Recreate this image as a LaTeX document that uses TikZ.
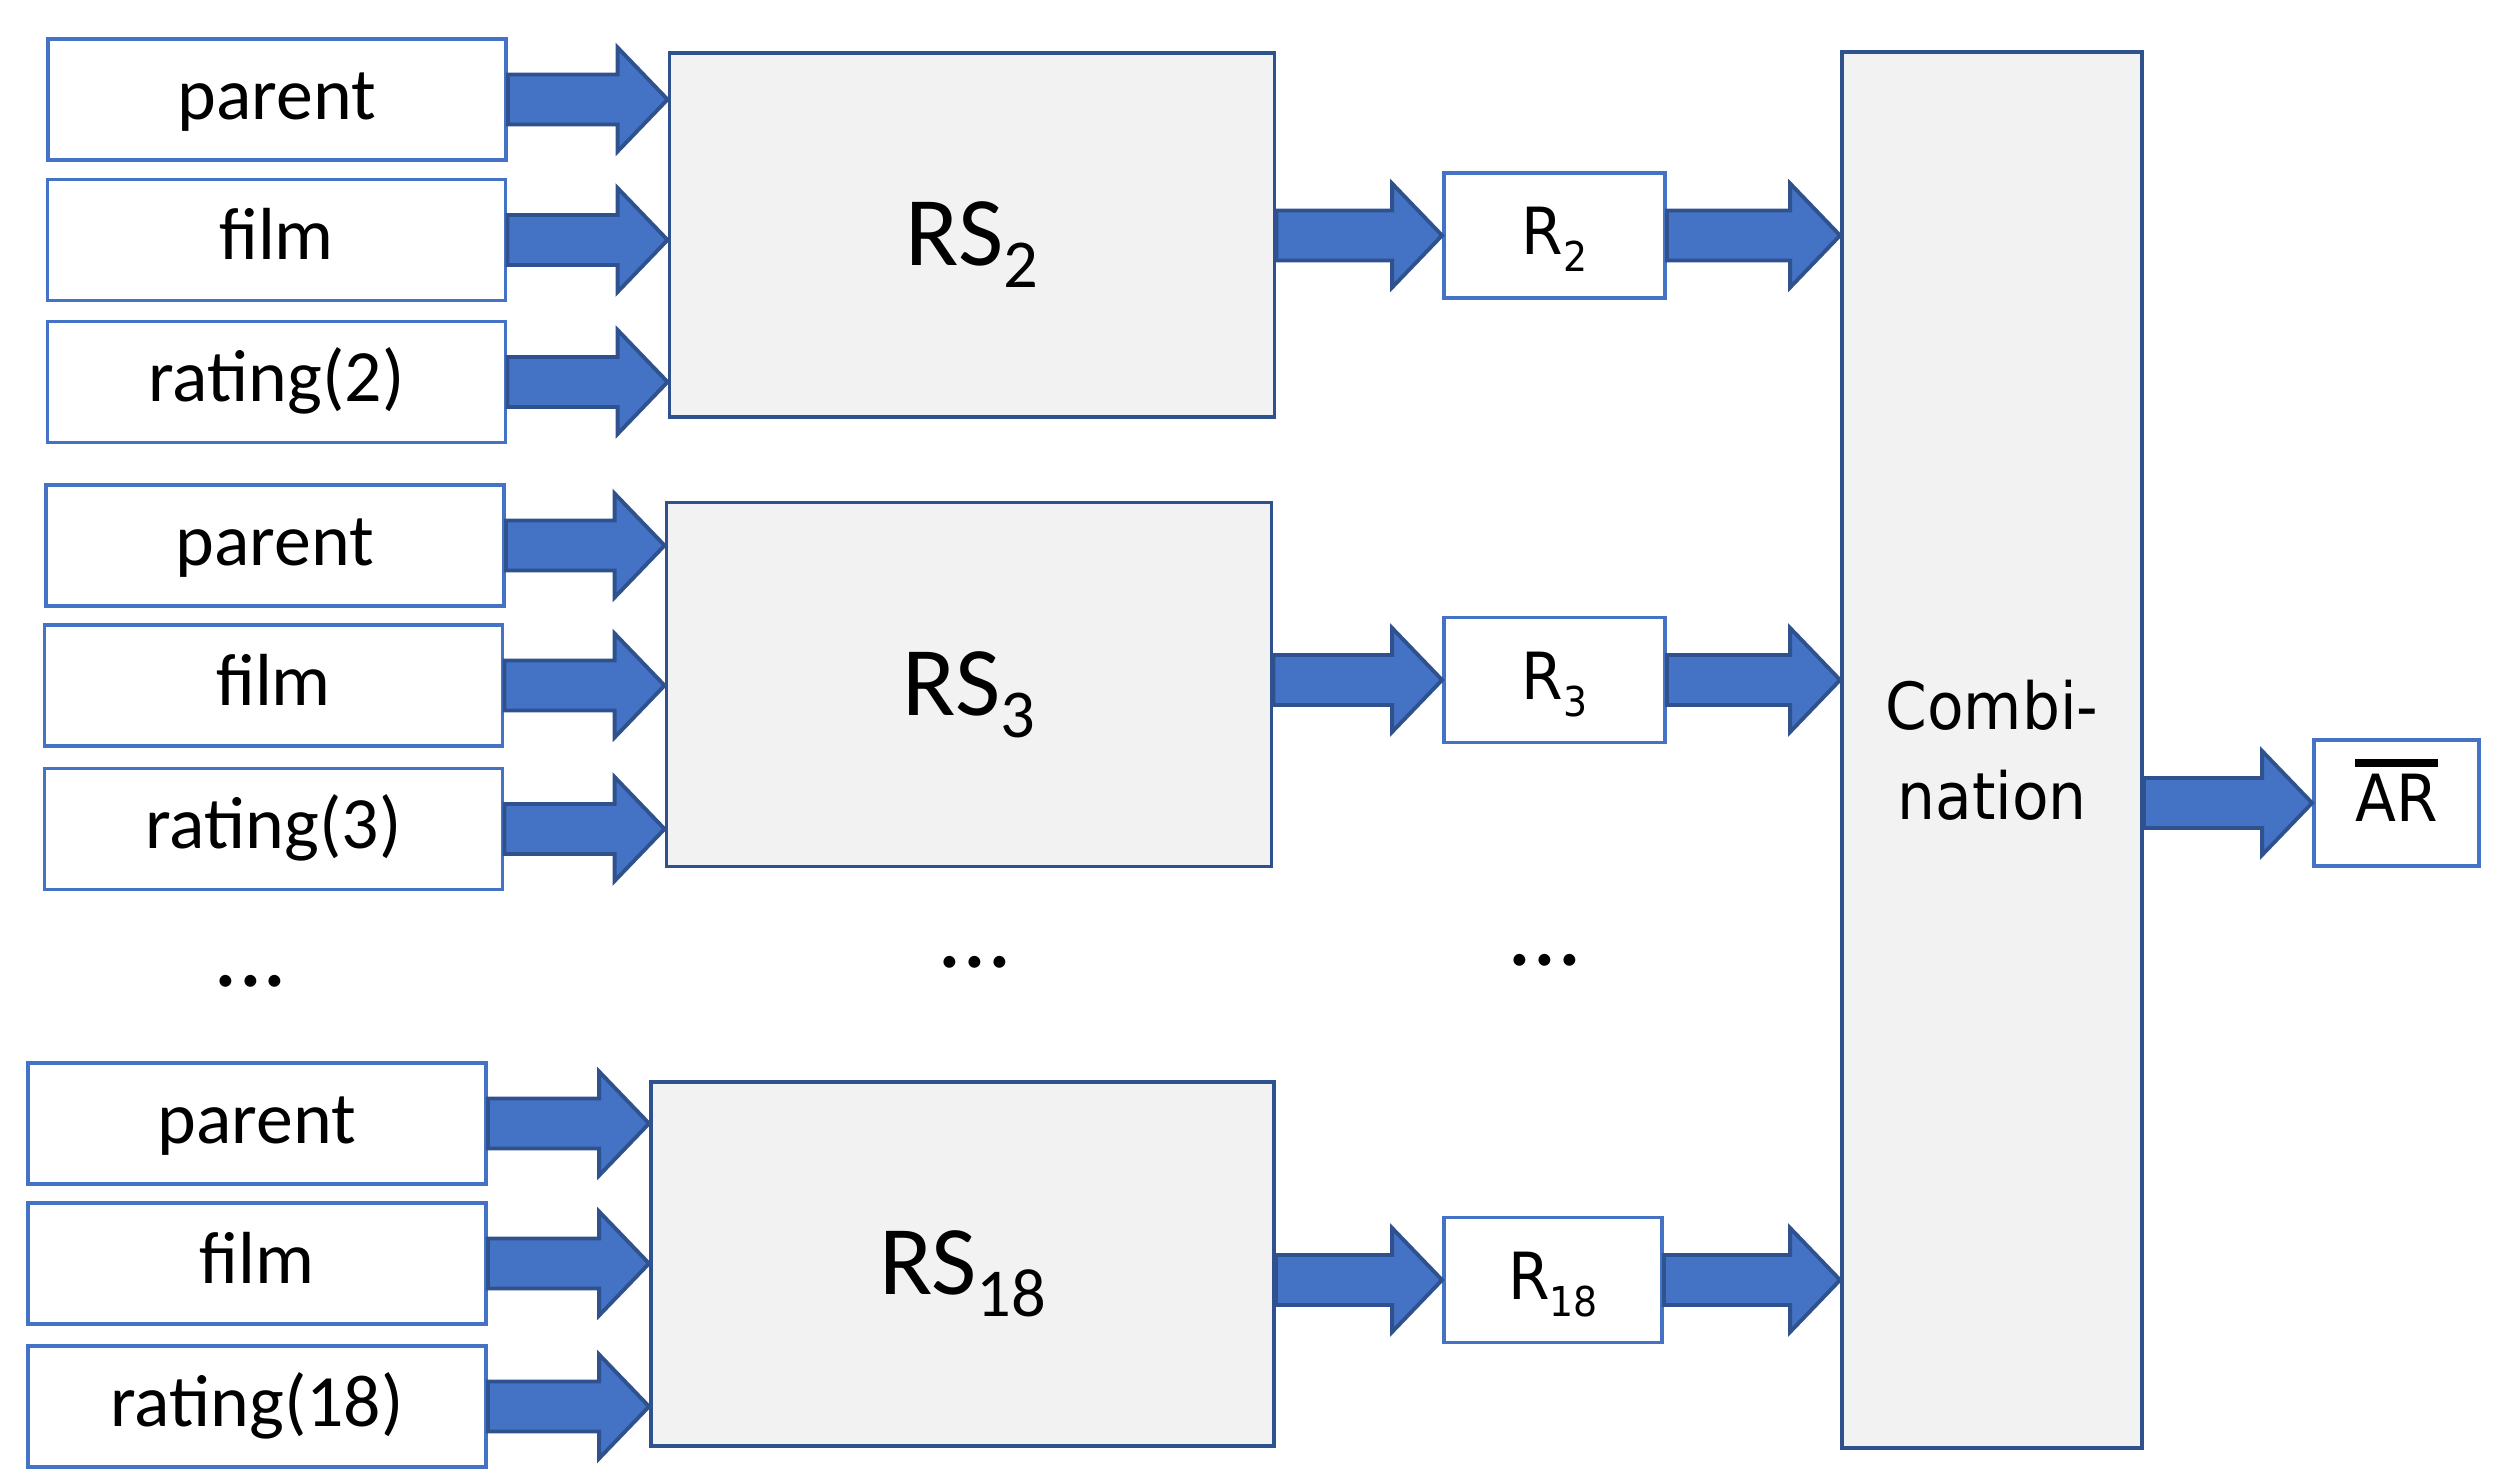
\documentclass[tikz,border=0pt]{standalone}
\usepackage{fontspec}
\setmainfont{Carlito}
\newfontfamily\tahoma[FakeStretch=0.92]{DejaVu Sans}
\usetikzlibrary{calc}
\definecolor{boxblue}{RGB}{68,114,196}
\definecolor{darkblue}{RGB}{47,82,143}
\definecolor{rsgray}{RGB}{242,242,242}
\newcommand{\rsname}[1]{RS\raisebox{-6.2pt}{\fontsize{19.5pt}{20pt}\selectfont #1}}
\newcommand{\rname}[1]{R\raisebox{-4.8pt}{\fontsize{11.7pt}{12pt}\selectfont #1}}
\newcommand{\overbar}[1]{\vbox{\hrule height 2pt\kern 2.3pt\hbox{#1}}}
% block arrow from #1 to the x of #2, at the height of #1
\newcommand{\fatarrow}[2]{%
	\filldraw[fill=boxblue, draw=darkblue, line width=1.1pt]
	let \p1=(#1), \p2=(#2) in
	(\x1,\y1+0.25cm) -- (\x2-0.5cm,\y1+0.25cm) -- (\x2-0.5cm,\y1+0.52cm) -- (\x2,\y1)
	-- (\x2-0.5cm,\y1-0.52cm) -- (\x2-0.5cm,\y1-0.25cm) -- (\x1,\y1-0.25cm) -- cycle;}
\begin{document}
\begin{tikzpicture}[
	inbox/.style={draw=boxblue, line width=1.1pt, inner sep=0pt, minimum width=4.58cm, minimum height=1.21cm, text height=0.55cm, text depth=0.15cm, font=\fontsize{21pt}{25pt}\selectfont},
	rsbox/.style={draw=darkblue, fill=rsgray, line width=1.1pt, inner sep=0pt, minimum width=6.05cm, minimum height=3.64cm, text height=0.75cm, text depth=0.13cm, font=\fontsize{28pt}{32pt}\selectfont},
	rbox/.style={draw=boxblue, line width=1.1pt, inner sep=0pt, minimum width=2.21cm, minimum height=1.25cm, text height=0.5cm, text depth=0.11cm, font=\tahoma\fontsize{18.5pt}{22pt}\selectfont},
	dots/.style={anchor=base, font=\fontsize{28pt}{32pt}\selectfont}]
	\useasboundingbox (0,0) rectangle (25.06,14.84);
	% first recommender
	\node[inbox] (pa2) at (2.77,13.845) {parent};
	\node[inbox] (fi2) at (2.765,12.44) {film};
	\node[inbox] (ra2) at (2.765,11.02) {rating(2)};
	\node[rsbox] (rs2) at (9.72,12.49) {\rsname{2}};
	\node[rbox] (r2) at (15.545,12.485) {\rname{2}};
	% second recommender
	\node[inbox] (pa3) at (2.75,9.385) {parent};
	\node[inbox] (fi3) at (2.735,7.985) {film};
	\node[inbox] (ra3) at (2.735,6.55) {rating(3)};
	\node[rsbox] (rs3) at (9.69,7.995) {\rsname{3}};
	\node[rbox] (r3) at (15.545,8.04) {\rname{3}};
	% last recommender
	\node[inbox] (pa18) at (2.57,3.605) {parent};
	\node[inbox] (fi18) at (2.57,2.205) {film};
	\node[inbox] (ra18) at (2.57,0.775) {rating(18)};
	\node[rsbox, minimum width=6.23cm] (rs18) at (9.625,2.2) {\rsname{18}};
	\node[rbox, minimum width=2.18cm] (r18) at (15.53,2.04) {\rname{18}};
	% dots
	\node[dots] (d1) at (2.505,4.97) {...};
	\node[dots] (d2) at (9.75,5.16) {...};
	\node[dots] (d3) at (15.45,5.18) {...};
	% combination and result
	\node[draw=darkblue, fill=rsgray, line width=1.1pt, minimum width=3cm, minimum height=13.96cm, align=center, font=\tahoma\fontsize{18.5pt}{25.6pt}\selectfont] (comb) at (19.92,7.34) {Combi-\\nation};
	\node[rbox, minimum width=1.65cm, minimum height=1.26cm, text height=0.64cm, text depth=0.26cm] (ar) at (23.965,6.81) {\overbar{AR}};
	% arrows
	\fatarrow{pa2.east}{rs2.west}
	\fatarrow{fi2.east}{rs2.west}
	\fatarrow{ra2.east}{rs2.west}
	\fatarrow{pa3.east}{rs3.west}
	\fatarrow{fi3.east}{rs3.west}
	\fatarrow{ra3.east}{rs3.west}
	\fatarrow{pa18.east}{rs18.west}
	\fatarrow{fi18.east}{rs18.west}
	\fatarrow{ra18.east}{rs18.west}
	\fatarrow{rs2.east |- r2.west}{r2.west}
	\fatarrow{rs3.east |- r3.west}{r3.west}
	\fatarrow{rs18.east |- r18.west}{r18.west}
	\fatarrow{r2.east}{comb.west}
	\fatarrow{r3.east}{comb.west}
	\fatarrow{r18.east}{comb.west}
	\fatarrow{comb.east |- ar.west}{ar.west}
\end{tikzpicture}
\end{document}
